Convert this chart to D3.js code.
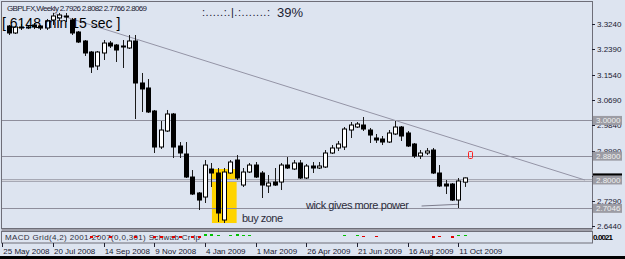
<!DOCTYPE html>
<html>
<head>
<meta charset="utf-8">
<script src="https://cdn.jsdelivr.net/npm/d3@7"></script>
<style>
  body { margin: 0; background: #dde4f0; overflow: hidden; }
  text { font-family: "Liberation Sans", Arial, sans-serif; }
</style>
</head>
<body>
<div id="chart"></div>
<script>
// weekly candles, first one is the week after 25 May 2008
var firstWeek = 1;
var opens  = [3.3173,3.2938,3.3139,3.3130,3.3206,3.3173,3.3105,3.3374,3.3442,3.3509,3.3374,3.2971,3.2669,3.2299,3.1829,3.2266,3.2601,3.2534,3.2501,3.2434,3.2669,3.1258,3.1090,3.0317,2.9107,2.9645,3.0216,2.9141,2.8872,2.8099,2.7562,2.7427,2.8368,2.8234,2.6655,2.8234,2.8670,2.7830,2.8267,2.8502,2.8234,2.7797,2.7931,2.7931,2.8502,2.8368,2.8570,2.8066,2.8469,2.8402,2.8435,2.8906,2.9074,2.9107,2.9678,2.9779,2.9846,2.9678,2.9410,2.9376,2.9275,2.9544,2.9779,2.9578,2.9208,2.8805,2.8906,2.9006,2.8234,2.7864,2.7864,2.7326,2.7926];
var highs  = [3.3206,3.3173,3.3240,3.3206,3.3274,3.3206,3.3408,3.3610,3.3610,3.3610,3.3442,3.3005,3.2702,3.2333,3.2333,3.2702,3.2669,3.2568,3.2702,3.2870,3.2870,3.1594,3.1392,3.0351,2.9981,3.0351,3.0250,2.9275,2.9275,2.8334,2.7595,2.8670,2.8570,2.8402,2.8402,2.8670,2.8838,2.8402,2.8570,2.8603,2.8301,2.8166,2.8402,2.8570,2.8771,2.8670,2.8670,2.8536,2.8603,2.8603,2.9006,2.9174,2.9309,2.9779,2.9947,2.9947,3.0115,2.9746,2.9544,2.9477,2.9678,2.9981,2.9813,2.9645,2.9242,2.9006,2.9074,2.9074,2.8502,2.7998,2.7898,2.8066,2.8082];
var lows   = [3.2870,3.2904,3.3038,3.3070,3.3070,3.3038,3.3038,3.3206,3.3341,3.3307,3.2870,3.2601,3.2165,3.1594,3.1694,3.2030,3.2434,3.1963,3.1762,3.2400,3.0048,3.0284,3.0250,2.8906,2.9040,2.9612,2.8738,2.8738,2.8066,2.7494,2.6990,2.7226,2.7763,2.6587,2.6554,2.8200,2.7998,2.7763,2.8234,2.8066,2.7394,2.7562,2.7797,2.7662,2.8368,2.8334,2.8032,2.8032,2.8234,2.8368,2.8402,2.8872,2.8973,2.9006,2.9410,2.9746,2.9645,2.9242,2.9242,2.9174,2.9242,2.9510,2.9309,2.9107,2.8738,2.8704,2.8838,2.8200,2.7763,2.7528,2.7293,2.7058,2.7766];
var closes = [3.2938,3.3139,3.3130,3.3139,3.3139,3.3105,3.3341,3.3509,3.3542,3.3475,3.2938,3.2635,3.2266,3.1795,3.2299,3.2601,3.2501,3.2366,3.2467,3.2669,3.1258,3.1057,3.0284,2.9107,2.9678,3.0216,2.9107,2.8906,2.8099,2.7528,2.7326,2.8502,2.8234,2.6890,2.8267,2.8603,2.8066,2.8267,2.8502,2.8099,2.7830,2.7898,2.7830,2.8502,2.8402,2.8570,2.8066,2.8469,2.8402,2.8469,2.8906,2.9074,2.9208,2.9712,2.9846,2.9880,2.9712,2.9510,2.9342,2.9275,2.9578,2.9779,2.9477,2.9141,2.8805,2.8906,2.8973,2.8234,2.7797,2.7797,2.7326,2.7965,2.8069];

var priceTicks = [3.3240, 3.2390, 3.1540, 3.0690, 2.9840, 2.8990, 2.8140, 2.7290, 2.6440];
var dateWeeks  = [0, 8, 16, 24, 32, 40, 48, 56, 64, 72];
var dateLabels = ["25 May 2008", "20 Jul 2008", "14 Sep 2008", "9 Nov 2008", "4 Jan 2009",
                  "1 Mar 2009", "26 Apr 2009", "21 Jun 2009", "16 Aug 2009", "11 Oct 2009"];

var levels      = [3.0000, 2.8800, 2.8000, 2.7046];
var levelLabels = ["3.0000", "2.8800", "2.8000", "2.7046"];
var lastPrice = 2.8069;

// trend line: [week, price] endpoints
var trendFrom = [8, 3.3610], trendTo = [92, 2.7998];
var wickFrom = [66.2, 2.7125], wickTo = [72, 2.7183];
// buy zone box
var zoneWeeks = [33.1, 37], zonePrices = [2.8368, 2.6554];

// indicator sub-window marks
var macdWeeks  = [14,15,17,21,24,25,27,28,30,31,32,33,34,36,37,38,39,54,56,57,59,68,69,71,72,73];
var macdValues = [-2,-1,-2,-2,-2,-2,-2,-2,-2,-2,2,2,1,1,2,1,1,1,1,-1,-1,-2,-1,-2,1,1];

var width = 625, height = 259;
var svg = d3.select("#chart").append("svg")
  .attr("width", width)
  .attr("height", height);

var x = d3.scaleLinear().domain([0, 72]).range([2.3, 458.3]);
var y = d3.scaleLinear().domain([2.644, 3.324]).range([226.4, 24]);
var yInd = d3.scaleLinear().domain([-3, 3]).range([239, 233]);

svg.append("rect").attr("width", width).attr("height", height).attr("fill", "#dde4f0");
svg.append("rect").attr("x", 0).attr("y", 256).attr("width", width).attr("height", 3).attr("fill", "#000");

svg.append("clipPath").attr("id", "plot")
  .append("rect").attr("x", 2).attr("y", 2).attr("width", 590).attr("height", 227);

var g = svg.append("g").attr("clip-path", "url(#plot)");

// buy zone
g.append("rect")
  .attr("x", x(zoneWeeks[0]))
  .attr("y", y(zonePrices[0]))
  .attr("width", x(zoneWeeks[1]) - x(zoneWeeks[0]))
  .attr("height", y(zonePrices[1]) - y(zonePrices[0]))
  .attr("fill", "#ffd400");

// horizontal levels
levels.forEach(function(v, i) {
  var yy = Math.round(y(v)) + 0.5;
  if (v == 2.8) {
    g.append("rect").attr("x", 2).attr("y", yy - 1.5).attr("width", 590).attr("height", 3).attr("fill", "#d4d6de");
    g.append("line").attr("x1", 2).attr("x2", 592).attr("y1", yy - 1).attr("y2", yy - 1).attr("stroke", "#a6a8b4");
    g.append("line").attr("x1", 2).attr("x2", 592).attr("y1", yy + 1).attr("y2", yy + 1).attr("stroke", "#a6a8b4");
  } else {
    g.append("line").attr("x1", 2).attr("x2", 592).attr("y1", yy).attr("y2", yy).attr("stroke", "#8e8e9c");
  }
});

// trend line
g.append("line")
  .attr("x1", x(trendFrom[0])).attr("y1", y(trendFrom[1]))
  .attr("x2", x(trendTo[0])).attr("y2", y(trendTo[1]))
  .attr("stroke", "#9494a6").attr("stroke-width", 1);

g.append("line")
  .attr("x1", x(wickFrom[0])).attr("y1", y(wickFrom[1]))
  .attr("x2", x(wickTo[0])).attr("y2", y(wickTo[1]))
  .attr("stroke", "#7c7c8c").attr("stroke-width", 1);

// candles
var candles = opens.map(function(o, i) {
  return { w: firstWeek + i, o: o, h: highs[i], l: lows[i], c: closes[i] };
});

var cg = g.append("g").selectAll("g").data(candles).enter().append("g");
cg.append("line")
  .attr("x1", function(d) { return Math.round(x(d.w)) + 0.5; })
  .attr("x2", function(d) { return Math.round(x(d.w)) + 0.5; })
  .attr("y1", function(d) { return y(d.h); })
  .attr("y2", function(d) { return y(d.l); })
  .attr("stroke", "#1a1a1a");
cg.append("rect")
  .attr("x", function(d) { return Math.round(x(d.w)) - 1.5; })
  .attr("y", function(d) { return y(Math.max(d.o, d.c)); })
  .attr("width", 4)
  .attr("height", function(d) { return Math.max(1, Math.abs(y(d.o) - y(d.c))); })
  .attr("fill", function(d) { return d.c >= d.o ? "#fff" : "#000"; })
  .attr("stroke", "#000")
  .attr("stroke-width", 1);

// red marker
g.append("rect").attr("x", 468.5).attr("y", 151.5).attr("width", 4).attr("height", 7).attr("rx", 1)
  .attr("fill", "none").attr("stroke", "#ff2020");

// texts on chart
g.append("text").attr("x", 306).attr("y", 209).attr("font-size", 11)
  .attr("textLength", 103).attr("fill", "#2c2c3a").text("wick gives more power");
g.append("text").attr("x", 242).attr("y", 222).attr("font-size", 11)
  .attr("textLength", 41).attr("fill", "#2c2c3a").text("buy zone");

// frames
svg.append("rect").attr("x", 1.5).attr("y", 1.5).attr("width", 591).attr("height", 227)
  .attr("fill", "none").attr("stroke", "#6e6e78");
svg.append("rect").attr("x", 1.5).attr("y", 229).attr("width", 591).attr("height", 2).attr("fill", "#a0a0aa");
svg.append("rect").attr("x", 1.5).attr("y", 231.5).attr("width", 591).attr("height", 11.5)
  .attr("fill", "none").attr("stroke", "#6e6e78");

// indicator window
svg.append("text").attr("x", 5).attr("y", 240).attr("font-size", 8)
  .attr("textLength", 195).attr("fill", "#303040")
  .text("MACD Grid(4,2) 2001-2007(0,0,301) Schwab Cr lp");
svg.append("g").selectAll("rect").data(macdWeeks).enter().append("rect")
  .attr("x", function(d) { return Math.round(x(d)) - 1; })
  .attr("y", function(d, i) { return Math.min(yInd(0), yInd(macdValues[i])); })
  .attr("width", 3)
  .attr("height", function(d, i) { return Math.abs(yInd(macdValues[i]) - yInd(0)); })
  .attr("fill", function(d, i) { return macdValues[i] > 0 ? "#00c000" : "#e00000"; });
svg.append("text").attr("x", 593).attr("y", 240).attr("font-size", 8).attr("font-weight", "bold")
  .attr("textLength", 20).attr("fill", "#000").text("0.0021");

// price axis
var ya = svg.append("g");
ya.selectAll("line").data(priceTicks).enter().append("line")
  .attr("x1", 592).attr("x2", 595)
  .attr("y1", function(d) { return Math.round(y(d)) + 0.5; })
  .attr("y2", function(d) { return Math.round(y(d)) + 0.5; })
  .attr("stroke", "#202030");
ya.selectAll("text").data(priceTicks).enter().append("text")
  .attr("x", 597).attr("y", function(d) { return y(d) + 3; })
  .attr("font-size", 8).attr("fill", "#202030")
  .text(function(d) { return d.toFixed(4); });

// current price marker then level labels
svg.append("rect").attr("x", 593).attr("y", y(lastPrice) - 4.5).attr("width", 29).attr("height", 9).attr("fill", "#000");
levels.forEach(function(v, i) {
  svg.append("rect").attr("x", 593).attr("y", y(v) - 4.5).attr("width", 29).attr("height", 9).attr("fill", "#9c9ca4");
  svg.append("text").attr("x", 596).attr("y", y(v) + 3).attr("font-size", 8)
    .attr("fill", "#f0f0f0").text(levelLabels[i]);
});

// time axis
var xa = svg.append("g");
xa.selectAll("line").data(dateWeeks).enter().append("line")
  .attr("x1", function(d) { return Math.round(x(d)) + 0.5; })
  .attr("x2", function(d) { return Math.round(x(d)) + 0.5; })
  .attr("y1", 243).attr("y2", 247)
  .attr("stroke", "#202030");
xa.selectAll("text").data(dateWeeks).enter().append("text")
  .attr("x", function(d) { return x(d) + 1; })
  .attr("y", 254)
  .attr("font-size", 8).attr("fill", "#202030")
  .text(function(d, i) { return dateLabels[i]; });

// header texts
svg.append("text").attr("x", 7).attr("y", 11).attr("font-size", 8)
  .attr("textLength", 140).attr("fill", "#202030")
  .text("GBPLFX,Weekly  2.7926 2.8082 2.7766 2.8069");
svg.append("text").attr("x", 2).attr("y", 28).attr("font-size", 14)
  .attr("fill", "#000").text("[ 6148 min 15 sec ]");
svg.append("text").attr("x", 202).attr("y", 16).attr("font-size", 11)
  .attr("textLength", 68).attr("fill", "#202030").text(":.....:.|.:.......:");
svg.append("text").attr("x", 277).attr("y", 17).attr("font-size", 13)
  .attr("fill", "#202030").text("39%");
</script>
</body>
</html>
